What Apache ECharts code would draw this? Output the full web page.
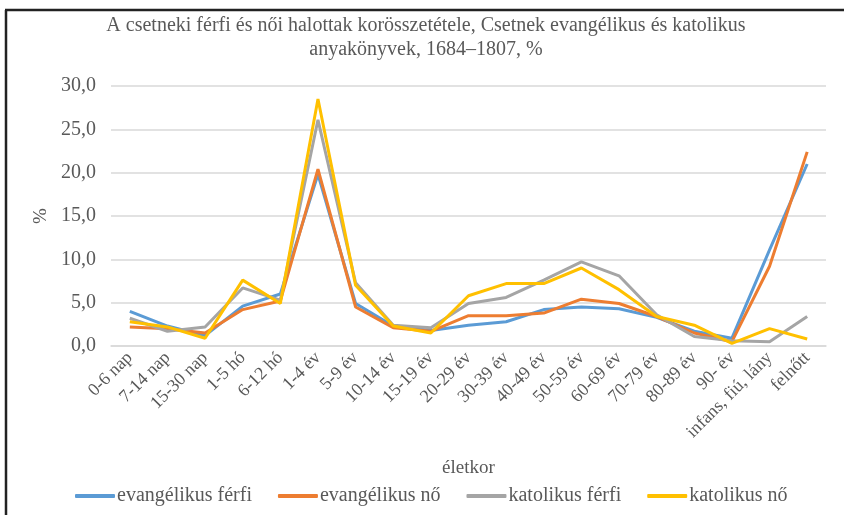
<!DOCTYPE html>
<html>
<head>
<meta charset="utf-8">
<script src="https://cdn.jsdelivr.net/npm/echarts@6/dist/echarts.min.js"></script>
<style>
  html, body { margin: 0; padding: 0; background: #fff; }
  #chart { width: 844px; height: 515px; }
</style>
</head>
<body>
<div id="chart"></div>
<script>
const categories = ["0-6 nap", "7-14 nap", "15-30 nap", "1-5 hó", "6-12 hó", "1-4 év", "5-9 év",
  "10-14 év", "15-19 év", "20-29 év", "30-39 év", "40-49 év", "50-59 év", "60-69 év",
  "70-79 év", "80-89 év", "90- év", "infans, fiú, lány", "felnőtt"];

const evangFerfi = [4.0, 2.3, 1.2, 4.6, 6.0, 19.8, 4.9, 2.3, 1.8, 2.4, 2.8, 4.2, 4.5, 4.3, 3.3, 1.7, 0.9, 11.1, 21.0];
const evangNo = [2.2, 2.0, 1.5, 4.2, 5.2, 20.4, 4.5, 2.1, 1.7, 3.5, 3.5, 3.8, 5.4, 4.9, 3.4, 1.5, 0.5, 9.2, 22.4];
const katFerfi = [3.2, 1.7, 2.2, 6.7, 5.3, 26.1, 7.3, 2.4, 2.1, 4.9, 5.6, 7.6, 9.7, 8.1, 3.6, 1.1, 0.6, 0.5, 3.4];
const katNo = [2.8, 2.2, 0.9, 7.6, 4.9, 28.5, 7.0, 2.3, 1.5, 5.8, 7.2, 7.2, 9.0, 6.5, 3.4, 2.4, 0.3, 2.0, 0.8];

const yTicks = [0, 5, 10, 15, 20, 25, 30];

const seriesNames = ["evangélikus férfi", "evangélikus nő", "katolikus férfi", "katolikus nő"];
const seriesColors = ["#5B9BD5", "#ED7D31", "#A5A5A5", "#FFC000"];
const seriesData = [evangFerfi, evangNo, katFerfi, katNo];

const font = "Liberation Serif";
const textColor = "#595959";

const myChart = echarts.init(document.getElementById("chart"));

let option = {
  animation: false,
  textStyle: { fontFamily: font },
  title: {
    text: "A csetneki férfi és női halottak korösszetétele, Csetnek evangélikus és katolikus\nanyakönyvek, 1684–1807, %",
    left: 421,
    textAlign: "center",
    top: 9,
    textStyle: { fontFamily: font, fontSize: 20, fontWeight: "normal", color: textColor, lineHeight: 24 }
  },
  // frame: only the top and left edges show in the picture
  graphic: [
    { type: "line", shape: { x1: 5, y1: 10, x2: 844, y2: 10 }, style: { stroke: "#222", lineWidth: 2.5 } },
    { type: "line", shape: { x1: 6, y1: 10, x2: 6, y2: 515 }, style: { stroke: "#222", lineWidth: 2.5 } }
  ],
  legend: {
    top: 481,
    left: 70,
    itemWidth: 40,
    itemHeight: 4,
    itemGap: 26,
    icon: "roundRect",
    data: seriesNames,
    textStyle: { fontFamily: font, fontSize: 20, color: textColor, padding: [0, 0, 0, -3] }
  },
  grid: { left: 111, right: 18, top: 86, bottom: 169 },
  xAxis: {
    type: "category",
    data: categories,
    name: "életkor",
    nameLocation: "middle",
    nameGap: 113,
    nameTextStyle: { fontFamily: font, fontSize: 19, color: textColor },
    axisTick: { show: false },
    axisLine: { lineStyle: { color: "#d9d9d9", width: 1.5 } },
    axisLabel: { rotate: 45, interval: 0, fontFamily: font, fontSize: 18, color: textColor, margin: 9 }
  },
  yAxis: {
    type: "value",
    min: yTicks[0],
    max: yTicks[yTicks.length - 1],
    interval: 5,
    name: "%",
    nameLocation: "middle",
    nameGap: 59,
    nameRotate: 90,
    nameTextStyle: { fontFamily: font, fontSize: 19, color: textColor },
    axisLine: { show: false },
    axisTick: { show: false },
    splitLine: { lineStyle: { color: "#d9d9d9", width: 1.5 } },
    axisLabel: {
      fontFamily: font, fontSize: 20, color: textColor, margin: 15,
      formatter: v => v.toFixed(1).replace(".", ",")
    }
  },
  series: seriesNames.map((name, i) => ({
    name: name,
    type: "line",
    data: seriesData[i],
    color: seriesColors[i],
    symbol: "none",
    lineStyle: { width: 3, color: seriesColors[i] }
  }))
};

myChart.setOption(option);
</script>
</body>
</html>
